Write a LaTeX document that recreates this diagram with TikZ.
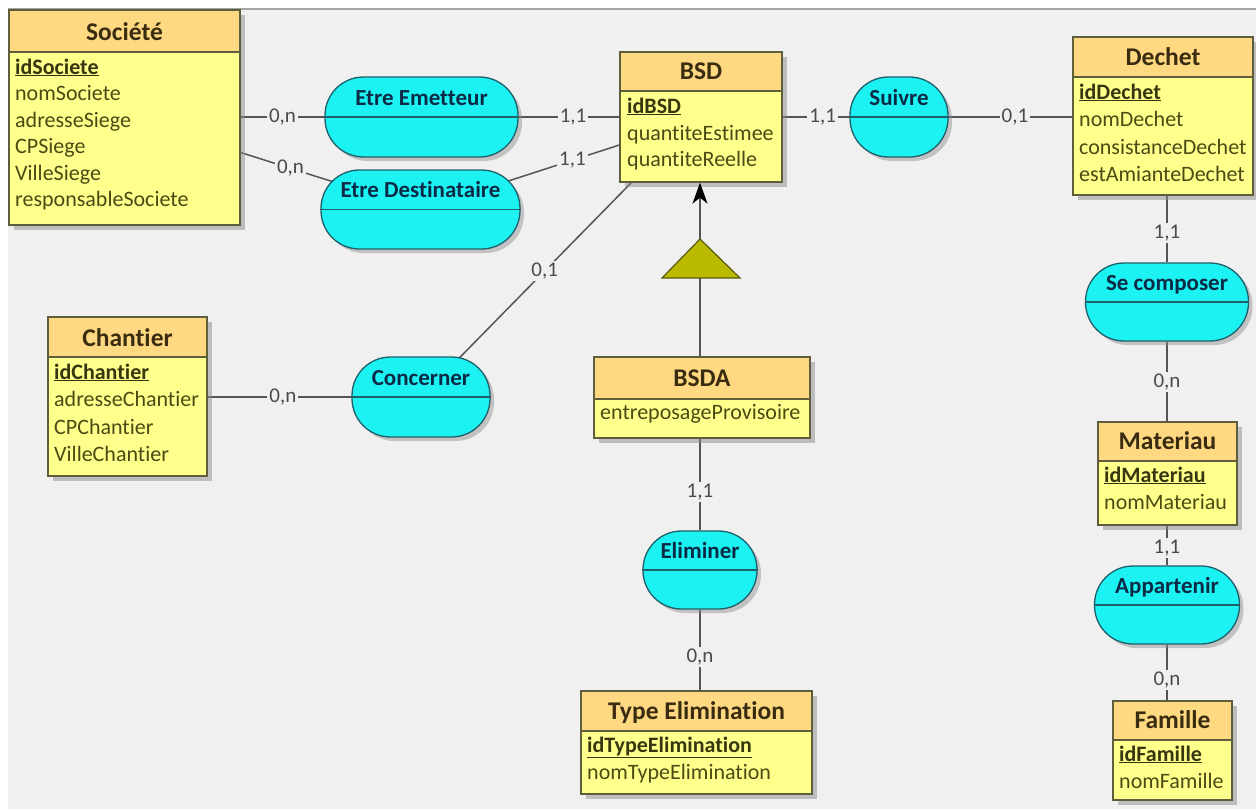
\documentclass[tikz,border=0pt]{standalone}
\usepackage{fontspec}
\setmainfont{Carlito}[Ligatures={NoCommon,NoRequired,NoContextual}]
\usetikzlibrary{fit,shadows,arrows.meta,calc}
\pgfdeclarelayer{bg}
\pgfdeclarelayer{links}
\pgfsetlayers{bg,links,main}
\definecolor{bgc}{HTML}{F0F0F0}
\definecolor{headc}{HTML}{FFD982}
\definecolor{bodyc}{HTML}{FFFF8C}
\definecolor{entline}{HTML}{5E5E3C}
\definecolor{attrc}{HTML}{4A4A14}
\definecolor{titlec}{HTML}{3A2C10}
\definecolor{idc}{HTML}{36360F}
\definecolor{assocfill}{HTML}{1CF2F2}
\definecolor{assocline}{HTML}{1F5F6A}
\definecolor{assoctxt}{HTML}{0A2A46}
\definecolor{linkc}{HTML}{555555}
\definecolor{cardc}{HTML}{4A4A4A}
\definecolor{isafill}{HTML}{BABA00}
\definecolor{isaline}{HTML}{5A5A10}
\tikzset{
  entbox/.style={draw=entline, line width=1.3pt, fill=bodyc, inner sep=0pt,
    drop shadow={shadow xshift=5pt, shadow yshift=-5pt, fill=black!45, opacity=0.5}},
  entborder/.style={draw=entline, line width=1.3pt},
  ttl/.style={anchor=base, inner sep=0pt, text=titlec, font=\fontsize{25.5}{30}\selectfont\bfseries},
  idattr/.style={anchor=base west, inner sep=0pt, text=idc, font=\fontsize{22}{26}\selectfont\bfseries},
  attr/.style={anchor=base west, inner sep=0pt, text=attrc, font=\fontsize{22}{26}\selectfont},
  assocbox/.style={draw=assocline, line width=1.3pt, fill=assocfill, inner sep=0pt, rounded corners=38.5pt,
    drop shadow={shadow xshift=4pt, shadow yshift=-4pt, fill=black!45, opacity=0.45}},
  assocsep/.style={draw=assocline, line width=1.3pt},
  assoctext/.style={anchor=base, inner sep=0pt, text=assoctxt, font=\fontsize{23}{27}\selectfont\bfseries},
  link/.style={draw=linkc, line width=1.5pt},
  card/.style={fill=bgc, inner sep=2pt, text=cardc, font=\fontsize{21}{25}\selectfont},
  isa/.style={draw=isaline, line width=1.2pt, fill=isafill},
  isaarrow/.style={draw=linkc, line width=1.5pt, arrows={-{Stealth[length=21pt,width=15pt,inset=6pt,fill=black,color=black]}}},
}
\newcommand\mcdent[6]{%
  \node[entbox, fit={(#2,#3) (#4,#5)}] (#1) {};
  \fill[headc] (#2,#3) rectangle (#4,#6);
  \draw[entborder] (#2,#6) -- (#4,#6);
  \draw[entborder] (#2,#3) rectangle (#4,#5);
}
\newcommand\mcdassoc[6]{%
  \node[assocbox, minimum width=#4, minimum height=#5] (#1) at (#2,#3) {};
  \draw[assocsep] (#1.west) -- (#1.east);
  \node[assoctext] at (#2,#3-12) {#6};
}
\begin{document}
\begin{tikzpicture}[x=1pt,y=-1pt]
\useasboundingbox (0,0) rectangle (1256,809);
\begin{pgfonlayer}{bg}
  \fill[bgc] (8,9) rectangle (1256,809);
  \draw[draw=black!35, line width=1.5pt] (8,9) -- (1256,9);
\end{pgfonlayer}

% ---------- Societe
\mcdent{soc}{9}{10}{240}{225}{52}
\node[ttl] at (124.5,40) {Société};
\node[idattr] at (15,74) {\underline{idSociete}};
\node[attr] at (15,100.5) {nomSociete};
\node[attr] at (15,127) {adresseSiege};
\node[attr] at (15,153.5) {CPSiege};
\node[attr] at (15,180) {VilleSiege};
\node[attr] at (15,206.5) {responsableSociete};

% ---------- BSD
\mcdent{bsd}{620}{52}{782}{182}{91}
\node[ttl] at (701,79) {BSD};
\node[idattr] at (627,113) {\underline{idBSD}};
\node[attr] at (627,140) {quantiteEstimee};
\node[attr] at (627,166.5) {quantiteReelle};

% ---------- Dechet
\mcdent{dech}{1073}{37}{1253}{195}{77}
\node[ttl] at (1163,65) {Dechet};
\node[idattr] at (1079,99) {\underline{idDechet}};
\node[attr] at (1079,126.5) {nomDechet};
\node[attr] at (1079,154) {consistanceDechet};
\node[attr] at (1079,181.5) {estAmianteDechet};

% ---------- Chantier
\mcdent{chan}{48}{317}{207}{476}{357}
\node[ttl] at (127.5,346) {Chantier};
\node[idattr] at (54,379) {\underline{idChantier}};
\node[attr] at (54,406.5) {adresseChantier};
\node[attr] at (54,434) {CPChantier};
\node[attr] at (54,461.5) {VilleChantier};

% ---------- BSDA
\mcdent{bsda}{594}{357}{810}{438}{399}
\node[ttl] at (702,386) {BSDA};
\node[attr] at (600,419) {entreposageProvisoire};

% ---------- Type Elimination
\mcdent{te}{581}{691}{812}{794}{731}
\node[ttl] at (696.5,719) {Type Elimination};
\node[idattr] at (587,752) {\underline{idTypeElimination}};
\node[attr] at (587,779) {nomTypeElimination};

% ---------- Materiau
\mcdent{mat}{1098}{422}{1237}{525}{461}
\node[ttl] at (1167.5,449) {Materiau};
\node[idattr] at (1104,482) {\underline{idMateriau}};
\node[attr] at (1104,509) {nomMateriau};

% ---------- Famille
\mcdent{fam}{1113}{701}{1232}{800}{740}
\node[ttl] at (1172.5,728) {Famille};
\node[idattr] at (1119,761) {\underline{idFamille}};
\node[attr] at (1119,788) {nomFamille};

% ---------- Associations
\mcdassoc{ee}{421.5}{117}{193}{80}{Etre Emetteur}
\mcdassoc{ed}{420.5}{209.5}{199}{79}{Etre Destinataire}
\mcdassoc{suiv}{899}{117}{98}{80}{Suivre}
\mcdassoc{conc}{421}{397}{138}{80}{Concerner}
\mcdassoc{elim}{700}{570}{114}{78}{Eliminer}
\mcdassoc{sc}{1167}{302}{163}{78}{Se composer}
\mcdassoc{app}{1167}{605}{145}{78}{Appartenir}

% ---------- Inheritance
\coordinate (apex) at (700,239);
\coordinate (tribase) at (700,278);
\draw[isa] (662,278) -- (apex) -- (740,278) -- cycle;
\draw[isaarrow] (apex) -- (apex |- bsd.south);
\draw[link] (bsda.north -| tribase) -- (tribase);

% ---------- Links
\begin{pgfonlayer}{links}
\draw[link] (soc.east |- ee.west) -- node[card,pos=0.5]{0,n} (ee.west);
\draw[link] (ee.east) -- node[card,pos=0.54]{1,1} (bsd.west |- ee.east);
\draw[link] ([yshift=-35pt]soc.east) -- node[card,pos=0.277]{0,n} (ed.center);
\draw[link] (ed.center) -- node[card,pos=0.764]{1,1} ([yshift=-28pt]bsd.west);
\draw[link] (conc.center) -- node[card,pos=0.588]{0,1} ([xshift=12pt]bsd.south west);
\draw[link] (chan.east |- conc.west) -- node[card,pos=0.524]{0,n} (conc.west);
\draw[link] (bsd.east |- suiv.west) -- node[card,pos=0.6]{1,1} (suiv.west);
\draw[link] (suiv.east) -- node[card,pos=0.536]{0,1} (dech.west |- suiv.east);
\draw[link] (sc.north |- dech.south) -- node[card,pos=0.56]{1,1} (sc.north);
\draw[link] (sc.south) -- node[card,pos=0.506]{0,n} (sc.south |- mat.north);
\draw[link] (app.north |- mat.south) -- node[card,pos=0.56]{1,1} (app.north);
\draw[link] (app.south) -- node[card,pos=0.63]{0,n} (app.south |- fam.north);
\draw[link] (elim.north |- bsda.south) -- node[card,pos=0.58]{1,1} (elim.north);
\draw[link] (elim.south) -- node[card,pos=0.585]{0,n} (elim.south |- te.north);
\end{pgfonlayer}
\end{tikzpicture}
\end{document}
